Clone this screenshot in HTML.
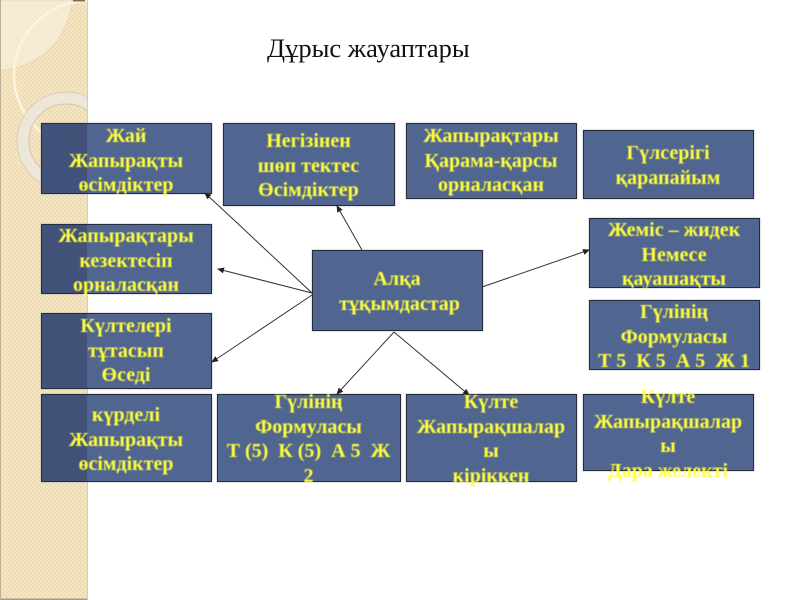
<!DOCTYPE html>
<html lang="kk"><head><meta charset="utf-8"><title>Дұрыс жауаптары</title>
<style>
html,body{margin:0;padding:0;background:#fff}
#p{position:relative;width:800px;height:600px;overflow:hidden;background:#fff;font-family:"Liberation Serif",serif}
#bg{position:absolute;left:0;top:0}
.b{position:absolute;box-sizing:border-box;background:#50658f;border:1.5px solid #252c3c;box-shadow:0 0 1.5px #99a}
.s{background:linear-gradient(to right,rgba(46,66,114,.9) 45px,#50658f 45px)}
.t{position:absolute;text-align:center;color:#ffff3c;font-weight:bold;font-size:20px;line-height:24.5px;white-space:nowrap;filter:blur(.45px)}
#h{position:absolute;left:267px;top:33px;font-size:26.5px;line-height:30px;color:#111;filter:blur(.3px);white-space:nowrap}
#l{position:absolute;left:0;top:0}
</style></head><body><div id="p">
<svg id="bg" width="800" height="600">
<defs><pattern id="d" width="4" height="4" patternUnits="userSpaceOnUse"><rect width="4" height="4" fill="#efdcb2"/><rect width="2" height="2" fill="#f4e5c4"/><rect x="2" y="2" width="2" height="2" fill="#f4e5c4"/></pattern>
<clipPath id="c"><rect width="88" height="600"/></clipPath></defs>
<g clip-path="url(#c)">
<rect width="88" height="600" fill="url(#d)"/>
<path d="M0 0H72C70 30 50 65 0 71Z" fill="#fff" opacity=".35" stroke="#c8b48c" stroke-width=".7"/>
<circle cx="88" cy="75" r="74" fill="none" stroke="#fbf5df" stroke-width="2.5"/>
<circle cx="66" cy="141" r="43" fill="none" stroke="#ece7d8" stroke-width="12"/>
<circle cx="66" cy="141" r="49" fill="none" stroke="#cfc1a3" stroke-width="1" opacity=".6"/>
<circle cx="66" cy="141" r="37" fill="none" stroke="#c4b394" stroke-width="1" opacity=".6"/>
<rect x="73" y="0" width="12" height="1.5" fill="#7d6f55"/>
<rect x="0" y="598.5" width="88" height="1.5" fill="#a59a85"/>
<rect x="87" width="1" height="600" fill="#dccba5"/>
<rect y="0" width="1" height="600" fill="#bcae90"/>
</g></svg>
<div id="h">Дұрыс жауаптары</div>
<div class="b s" style="left:41px;top:123px;width:171px;height:71px"></div>
<div class="b" style="left:223px;top:123px;width:172px;height:83px"></div>
<div class="b" style="left:406px;top:123px;width:171px;height:76px"></div>
<div class="b" style="left:583px;top:130px;width:171px;height:69px"></div>
<div class="b" style="left:589px;top:218px;width:171px;height:70px"></div>
<div class="b" style="left:589px;top:300px;width:171px;height:70px"></div>
<div class="b s" style="left:41px;top:224px;width:171px;height:70px"></div>
<div class="b s" style="left:41px;top:313px;width:171px;height:76px"></div>
<div class="b s" style="left:41px;top:394px;width:171px;height:88px"></div>
<div class="b" style="left:217px;top:394px;width:184px;height:88px"></div>
<div class="b" style="left:406px;top:394px;width:171px;height:88px"></div>
<div class="b" style="left:583px;top:394px;width:171px;height:77px"></div>
<div class="b" style="left:312px;top:250px;width:171px;height:81px"></div>
<svg id="l" width="800" height="600" fill="none" stroke="#333" stroke-width="1">
<defs><marker id="a" markerWidth="7" markerHeight="6" refX="6" refY="3" orient="auto"><path d="M0 0L7 3L0 6Z" fill="#222" stroke="none"/></marker></defs>
<g marker-end="url(#a)">
<line x1="312" y1="293" x2="205" y2="193"/>
<line x1="362" y1="250" x2="337" y2="206"/>
<line x1="312" y1="293" x2="218" y2="269"/>
<line x1="312" y1="295" x2="212" y2="362"/>
<line x1="482" y1="287" x2="589" y2="250"/>
<line x1="394" y1="332" x2="337" y2="394"/>
<line x1="394" y1="332" x2="469" y2="395"/>
</g></svg>
<div class="t" style="left:41px;top:124px;width:170px">Жай<br>Жапырақты<br>өсімдіктер</div>
<div class="t" style="left:223px;top:129px;width:171px">Негізінен<br>шөп тектес<br>Өсімдіктер</div>
<div class="t" style="left:406px;top:124px;width:170px">Жапырақтары<br>Қарама-қарсы<br>орналасқан</div>
<div class="t" style="left:583px;top:141px;width:170px">Гүлсерігі<br>қарапайым</div>
<div class="t" style="left:589px;top:218px;width:170px">Жеміс – жидек<br>Немесе<br>қауашақты</div>
<div class="t" style="left:589px;top:300px;width:170px">Гүлінің<br>Формуласы<br>Т 5&nbsp; К 5&nbsp; А 5&nbsp; Ж 1</div>
<div class="t" style="left:41px;top:224px;width:170px">Жапырақтары<br>кезектесіп<br>орналасқан</div>
<div class="t" style="left:41px;top:314px;width:170px">Күлтелері<br>тұтасып<br>Өседі</div>
<div class="t" style="left:41px;top:403px;width:170px">күрделі<br>Жапырақты<br>өсімдіктер</div>
<div class="t" style="left:217px;top:390px;width:183px">Гүлінің<br>Формуласы<br>Т (5)&nbsp; К (5)&nbsp; А 5&nbsp; Ж<br>2</div>
<div class="t" style="left:406px;top:390px;width:170px">Күлте<br>Жапырақшалар<br>ы<br>кіріккен</div>
<div class="t" style="left:583px;top:385px;width:170px">Күлте<br>Жапырақшалар<br>ы<br>Дара желекті</div>
<div class="t" style="left:312px;top:267px;width:170px">Алқа<br>&nbsp;тұқымдастар</div>
</div></body></html>
